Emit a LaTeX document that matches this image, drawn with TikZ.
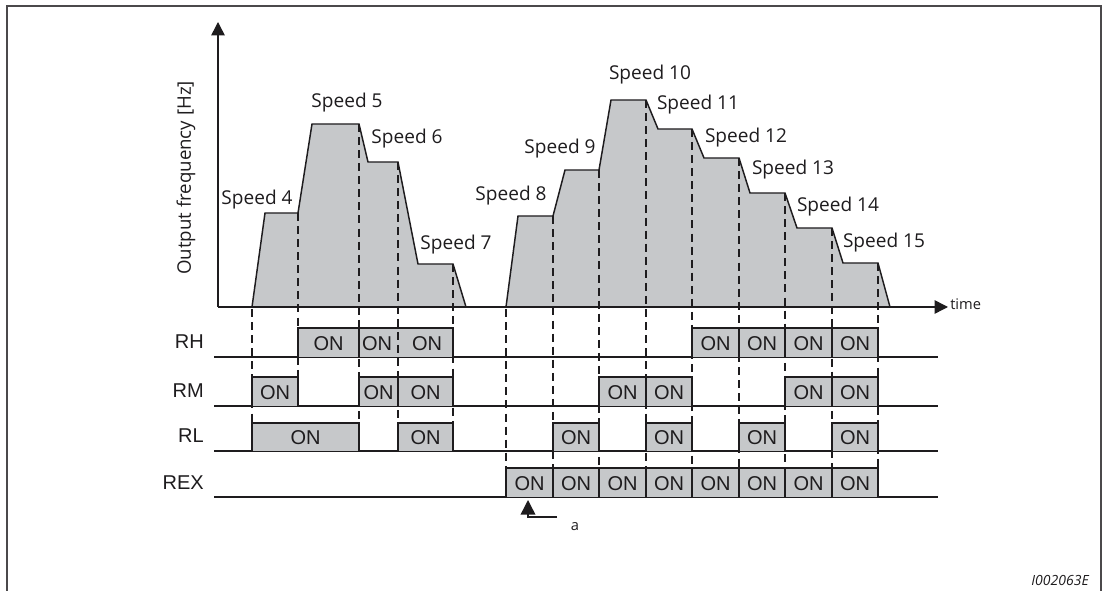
\documentclass[tikz,border=0pt]{standalone}
\usepackage{fontspec}
\setmainfont{Open Sans}
\newfontfamily\arialf{Liberation Sans}
\usetikzlibrary{arrows.meta}
\definecolor{fillg}{RGB}{198,200,202}
\definecolor{ink}{RGB}{30,28,30}
\tikzset{
  frame/.style={draw=ink!80, line width=0.8pt},
  prof/.style={draw=ink, fill=fillg, line width=1.1pt, line join=miter},
  axisline/.style={draw=ink, line width=1.1pt, -{Triangle[length=10pt,width=10pt]}},
  dsh/.style={draw=ink, line width=0.8pt, dash pattern=on 6pt off 3.8pt},
  sig/.style={draw=ink, line width=1.1pt},
  onbox/.style={draw=ink, fill=fillg, line width=1.1pt},
  ontext/.style={font=\arialf\fontsize{15}{17}\selectfont, text=ink, inner sep=0pt},
  sigl/.style={font=\arialf\fontsize{15}{17}\selectfont, text=ink, anchor=east, inner sep=0pt},
  spd/.style={font=\fontsize{14.3}{16}\selectfont, text=ink, inner sep=0pt},
  smalltxt/.style={font=\fontsize{11}{13}\selectfont, text=ink, inner sep=0pt},
}
\newcommand{\onframe}[4]{%
  \draw[onbox] (#1,#4) -- (#1,#3) -- (#2,#3) -- (#2,#4);}
\newcommand{\onb}[5]{%
  \onframe{#1}{#2}{#3}{#4}
  \node[ontext] (#5) at ({(#1+#2)/2},{(#3+#4)/2+1}) {ON};}
\begin{document}
\begin{tikzpicture}[x=0.75pt,y=-0.75pt]
\useasboundingbox (0,0) rectangle (1103,591);
% frame
\draw[frame] (7,591) -- (7,6) -- (1101,6) -- (1101,591);
% profiles
\draw[prof] (252,307) -- (265,213) -- (298,213) -- (312,124) -- (359,124) -- (368,162) -- (398,162) -- (418,264) -- (453,264) -- (466,307) -- cycle;
\draw[prof] (506,307) -- (518,216) -- (553,216) -- (565,170) -- (599,170) -- (611,100) -- (646,100) -- (658,129) -- (692,129) -- (704,158) -- (739,158) -- (750,193) -- (785,193) -- (797,228) -- (832,228) -- (843,263) -- (878,263) -- (890,307) -- cycle;
% axes
\coordinate (O) at (218,307);
\coordinate (ytip) at (218,22);
\coordinate (xtip) at (948,307);
\draw[axisline] (O) -- (ytip);
\draw[axisline] (O) -- (xtip);
\node[smalltxt, anchor=west] (time) at (950,304) {time};
\node[font=\fontsize{14}{16}\selectfont, text=ink, rotate=90, inner sep=0pt] (ylab) at (186,178) {Output frequency [Hz]};
% speed labels
\node[spd] (s4) at (257,200) {Speed 4};
\node[spd] (s5) at (347,103) {Speed 5};
\node[spd] (s6) at (407,139) {Speed 6};
\node[spd] (s7) at (456,245) {Speed 7};
\node[spd] (s8) at (511,196) {Speed 8};
\node[spd] (s9) at (560,149) {Speed 9};
\node[spd] (s10) at (650,75) {Speed 10};
\node[spd] (s11) at (698,105) {Speed 11};
\node[spd] (s12) at (746,138) {Speed 12};
\node[spd] (s13) at (793,170) {Speed 13};
\node[spd] (s14) at (838,207) {Speed 14};
\node[spd] (s15) at (884,243) {Speed 15};
% signal lines
\foreach \yy in {357,406,451,497}{
  \draw[sig] (214,\yy) -- (938,\yy);
}
\node[sigl] (lRH) at (204,342) {RH};
\node[sigl] (lRM) at (204,391) {RM};
\node[sigl] (lRL) at (204,436) {RL};
\node[sigl] (lREX) at (204,483) {REX};
% ON boxes RH
\onb{298}{359}{328}{357}{rh1}
\onframe{359}{453}{328}{357}
\node[ontext] (rh2) at (377,343.5) {ON};
\node[ontext] (rh3) at (427,343.5) {ON};
\onb{692}{739}{328}{357}{rh4}
\onb{739}{785}{328}{357}{rh5}
\onb{785}{832}{328}{357}{rh6}
\onb{832}{878}{328}{357}{rh7}
% RM
\onb{252}{298}{377}{406}{rm1}
\onb{359}{398}{377}{406}{rm2}
\onb{398}{453}{377}{406}{rm3}
\onb{599}{646}{377}{406}{rm4}
\onb{646}{692}{377}{406}{rm5}
\onb{785}{832}{377}{406}{rm6}
\onb{832}{878}{377}{406}{rm7}
% RL
\onb{252}{359}{423}{451}{rl1}
\onb{398}{453}{423}{451}{rl2}
\onb{553}{599}{423}{451}{rl3}
\onb{646}{692}{423}{451}{rl4}
\onb{739}{785}{423}{451}{rl5}
\onb{832}{878}{423}{451}{rl6}
% REX
\onb{506}{553}{468}{497}{rx1}
\onb{553}{599}{468}{497}{rx2}
\onb{599}{646}{468}{497}{rx3}
\onb{646}{692}{468}{497}{rx4}
\onb{692}{739}{468}{497}{rx5}
\onb{739}{785}{468}{497}{rx6}
\onb{785}{832}{468}{497}{rx7}
\onb{832}{878}{468}{497}{rx8}
% dashed lines
\foreach \xx/\yy/\ye in {252/309/451,298/213/406,359/124/451,398/162/451,453/264/451}{
  \draw[dsh] (\xx,\yy) -- (\xx,\ye);
}
\foreach \xx/\yy in {506/309,553/216,599/170,646/100,692/129,739/158,785/193,832/228,878/263}{
  \draw[dsh] (\xx,\yy) -- (\xx,468);
}
% marker a
\node[smalltxt] (la) at (575,527) {a};
\coordinate (aend) at (557,517);
\coordinate (acorner) at (528,517);
\coordinate (atip) at (528,500);
\draw[draw=ink, line width=1.1pt, -{Triangle[length=11pt,width=11pt]}] (aend) -- (acorner) -- (atip);
% id
\node[smalltxt, font=\itshape\fontsize{10.5}{12}\selectfont, anchor=east] (id) at (1089,580) {I002063E};
\end{tikzpicture}
\end{document}
